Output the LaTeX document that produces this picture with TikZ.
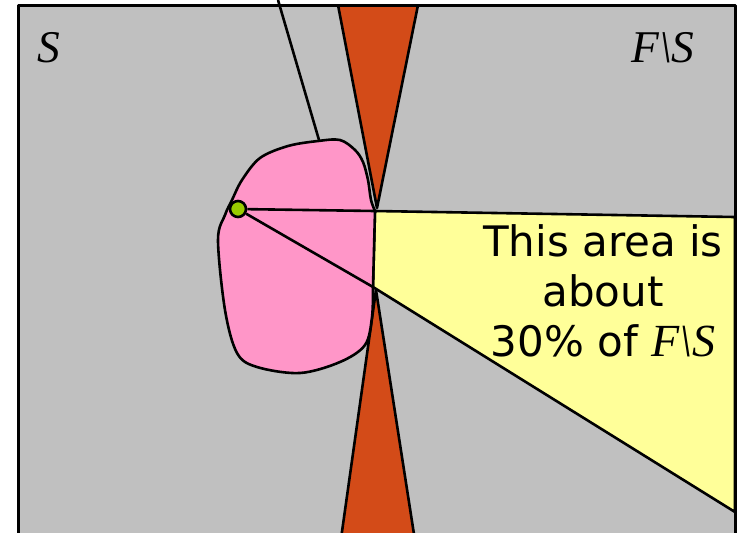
\documentclass[tikz,border=0pt]{standalone}
\usepackage{fontspec}
\setmainfont{Liberation Serif}
\newfontfamily\areafont{DejaVu Sans}
\definecolor{boxgray}{RGB}{192,192,192}
\definecolor{wedge}{RGB}{211,75,24}
\definecolor{blob}{RGB}{255,150,200}
\definecolor{area}{RGB}{255,255,153}
\definecolor{pt}{RGB}{153,204,0}
\begin{document}
\begin{tikzpicture}[x=0.5pt,y=-0.5pt,line join=round,
    edge/.style={draw=black,line width=1.3pt},
    setname/.style={font=\fontsize{22.7}{26}\selectfont\rmfamily\itshape,inner sep=0pt}]
        \def\lft{18}
        \def\rgt{735}
        \def\tp{5}

        \useasboundingbox (0,0) rectangle (738,532);
        \clip (0,0) rectangle (738,532);

        % the set and its two double cones
        \fill[boxgray] (\lft,\tp) rectangle (\rgt,560);
        \filldraw[fill=wedge,edge] (338,\tp) -- (377,208) -- (418,\tp);
        \filldraw[fill=wedge,edge] (338,560) -- (376,290) -- (418,560);

        % the part of F\S seen from the point
        \filldraw[fill=area,edge] (375,211) -- (\rgt,217) -- (\rgt,512) -- (373,287) -- cycle;

        % the blob with its leader line
        \filldraw[fill=blob,edge] (375,211) -- (373,287)
            -- plot[smooth,tension=0.55] coordinates {(373,287) (372,317) (365,345) (340,362)
               (300,373) (257,367) (237,353) (225,310) (218,240) (225,215) (232,200)
               (242,180) (260,158) (288,146) (318,141) (340,140) (355,150) (363,162)
               (368,180) (371,200) (375,211)} -- cycle;
        \coordinate (leadtop) at (278,0);
        \coordinate (leadbot) at (319,140);
        \draw[edge] (leadtop) -- (leadbot);

        \coordinate (rimhi) at (375,211);
        \coordinate (rimlo) at (373,287);
        \node[circle,draw,fill=pt,line width=1.3pt,minimum size=8pt,inner sep=0pt] (x) at (238,209) {};
        \draw[edge] (x) -- (rimhi);
        \draw[edge] (x) -- (rimlo);

        \draw[line width=1.5pt] (\lft,560) -- (\lft,\tp) -- (\rgt,\tp) -- (\rgt,560);

        \node[setname] (S) at (49,48) {S};
        \node[setname] (FS) at (663,48) {F\textbackslash S};
        \node[align=center,font=\areafont\fontsize{21}{25}\selectfont,inner sep=0pt] (note) at (603,291)
            {This area is\\about\\ 30\% of {\fontsize{23}{25}\selectfont\rmfamily\itshape F\textbackslash S}};
    \end{tikzpicture}
\end{document}
